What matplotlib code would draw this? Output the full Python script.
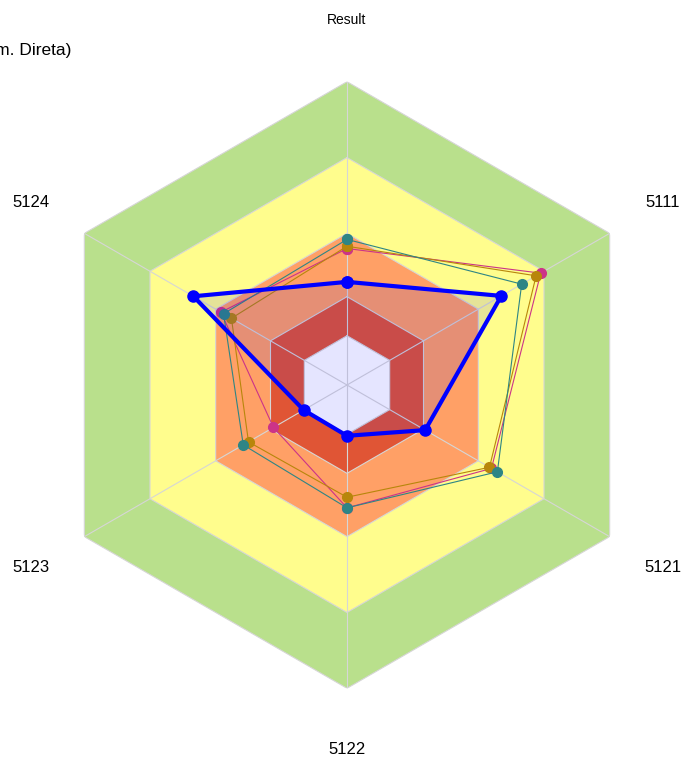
import numpy as np
import matplotlib.pyplot as plt

plt.rcParams['font.family'] = ['Liberation Sans', 'DejaVu Sans']

# axis categories (clockwise from top)
categories = ['Result', '5111', '5121', '5122', '5123', '5124']

# background bands (outer edge of each band) and their colours
band_edges = [5.0, 4.0, 3.0, 2.165, 1.65]
band_colors = ['#B9E08C', '#FFFD8D', '#FFA066', '#E05535', '#FFFFFF']

# series values
blue_values = [2.36, 3.35, 2.19, 1.67, 1.66, 3.34]
magenta_values = [2.80, 3.95, 3.20, 2.62, 2.12, 2.92]
gold_values = [2.83, 3.88, 3.17, 2.48, 2.50, 2.76]
teal_values = [2.92, 3.66, 3.29, 2.62, 2.58, 2.88]

thin_series = [
    (magenta_values, '#CC3388'),
    (gold_values, '#B8860B'),
    (teal_values, '#2E8585'),
]


def closed(values):
    return list(values) + [values[0]]


angles = np.linspace(0, 2 * np.pi, len(categories), endpoint=False)
theta = closed(angles)

fig = plt.figure(figsize=(6.85, 7.6), dpi=100)
ax = fig.add_axes([43.7 / 685, (760 - 688.3) / 760, 606.6 / 685, 606.6 / 760], projection='polar')
ax.set_theta_offset(np.pi / 2)
ax.set_theta_direction(-1)
ax.set_rlim(1, 5)
ax.grid(False)
ax.set_xticks([])
ax.set_yticks([])
ax.spines['polar'].set_visible(False)
ax.patch.set_alpha(0)

# coloured hexagon bands
for edge, color in zip(band_edges, band_colors):
    ax.fill(theta, [edge] * len(theta), color=color, lw=0, zorder=1)

# grid lines on top of the bands
grid_color = '#D6D6D6'
for edge in band_edges:
    ax.plot(theta, [edge] * len(theta), color=grid_color, lw=0.8, zorder=2)
for a in angles:
    ax.plot([a, a], [1, 5], color=grid_color, lw=0.8, zorder=2)

# thin series
for values, color in thin_series:
    ax.plot(theta, closed(values), color=color, lw=0.8, marker='o', markersize=7, zorder=3)

# main series, filled with light blue
ax.fill(theta, closed(blue_values), color=(0, 0, 1, 0.1), lw=0, zorder=4)
ax.plot(theta, closed(blue_values), color='#0000FF', lw=3, marker='o', markersize=8, zorder=5)

# axis labels
for a, label in zip(angles, categories):
    size = 10 if label == 'Result' else 12
    ax.text(a, 5.81, label, ha='center', va='center', fontsize=size, clip_on=False)

fig.text(71 / 685, 1 - 50 / 760, '(Adm. Direta)', ha='right', va='center', fontsize=12.5)

fig.savefig('out.png', dpi=100)
